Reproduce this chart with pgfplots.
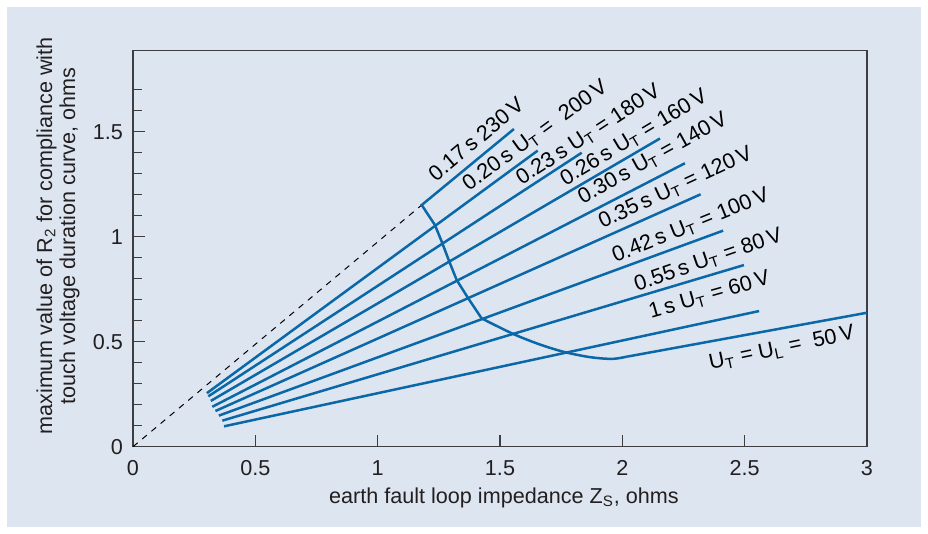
\documentclass[border=0pt]{standalone}
\usepackage{fontspec}
\setmainfont{Liberation Sans}
\usepackage{pgfplots}
\pgfplotsset{compat=1.18}
\definecolor{panel}{RGB}{221,230,240}
\definecolor{lineblue}{RGB}{10,104,168}
\definecolor{txt}{RGB}{35,31,32}
\definecolor{axgray}{RGB}{62,62,64}
\begin{document}
\fontsize{10.8}{12.5}\selectfont
\begin{tikzpicture}
\fill[white] (0,0) rectangle (464pt,267pt);
\fill[panel] (3.5pt,3.5pt) rectangle (460.5pt,263.5pt);
\begin{axis}[
  at={(66.5pt,43.65pt)}, anchor=south west,
  scale only axis, width=367pt, height=198pt,
  xmin=0, xmax=3, ymin=0, ymax=1.886,
  clip=false,
  axis line style={draw=axgray, line width=0.75pt},
  xtick={0,0.5,1,1.5,2,2.5,3},
  ytick={0,0.5,1,1.5},
  minor ytick={0.1,0.2,0.3,0.4,0.6,0.7,0.8,0.9,1.1,1.2,1.3,1.4,1.6,1.7},
  tick pos=left,
  tick align=inside,
  major tick length=6pt, minor tick length=4.5pt,
  every tick/.style={draw=axgray, line width=0.65pt},
  /pgf/number format/assume math mode=true,
  ticklabel style={text=txt, font=\fontsize{10.8}{12.5}\selectfont},
  yticklabel style={xshift=-1.3pt},
  xticklabel style={yshift=-3.1pt},
  xlabel={earth fault loop impedance Z\textsubscript{S}, ohms},
  xlabel style={at={(axis description cs:0.5054,0)}, anchor=center, yshift=-25.5pt, text=txt},
  ylabel={maximum value of R\textsubscript{2} for compliance with\\touch voltage duration curve, ohms},
  ylabel style={at={(axis description cs:-0.1020,0.532)}, anchor=center, align=center, text=txt, font=\fontsize{10.8}{11.5}\selectfont},
  every node/.append style={text=txt},
]
% dashed 230 V extension
\addplot[black, line width=0.5pt, dash pattern=on 3pt off 3pt] coordinates {(0,0) (1.18,1.151)};
% 230 V line and left part of the duration curve
\addplot[lineblue, line width=1.25pt, line join=miter] coordinates {(1.557,1.513) (1.18,1.151) (1.234,1.056) (1.262,0.976) (1.293,0.881) (1.323,0.794) (1.370,0.707) (1.425,0.611)};
\addplot[lineblue, line width=1.25pt, smooth] coordinates {(1.425,0.611) (1.554,0.537) (1.66,0.488) (1.759,0.452) (1.854,0.429) (1.92,0.420) (1.97,0.419) (2.02,0.429)};
% 50 V line
\addplot[lineblue, line width=1.25pt] coordinates {(2.02,0.429) (3,0.638)};
% U_T lines
\addplot[lineblue, line width=1.25pt] coordinates {(0.302,0.255) (1.654,1.410)};
\addplot[lineblue, line width=1.25pt] coordinates {(0.308,0.240) (1.834,1.400)};
\addplot[lineblue, line width=1.25pt] coordinates {(0.318,0.218) (2.154,1.468)};
\addplot[lineblue, line width=1.25pt] coordinates {(0.324,0.190) (2.256,1.350)};
\addplot[lineblue, line width=1.25pt] coordinates {(0.337,0.170) (2.320,1.202)};
\addplot[lineblue, line width=1.25pt] coordinates {(0.351,0.148) (2.412,1.029)};
\addplot[lineblue, line width=1.25pt] coordinates {(0.365,0.124) (2.497,0.865)};
\addplot[lineblue, line width=1.25pt] coordinates {(0.372,0.097) (2.559,0.646)};
% labels
\node[rotate=40] at (axis cs:1.402,1.465) {0.17\,s 230\,V};
\node[rotate=36] at (axis cs:1.645,1.480) {0.20\,s U\textsubscript{T} =\ \ 200\,V};
\node[rotate=33] at (axis cs:1.862,1.484) {0.23\,s U\textsubscript{T} = 180\,V};
\node[rotate=31] at (axis cs:2.048,1.470) {0.26\,s U\textsubscript{T} = 160\,V};
\node[rotate=29] at (axis cs:2.125,1.372) {0.30\,s U\textsubscript{T} = 140\,V};
\node[rotate=25] at (axis cs:2.218,1.232) {0.35\,s U\textsubscript{T} = 120\,V};
\node[rotate=22] at (axis cs:2.280,1.052) {0.42\,s U\textsubscript{T} = 100\,V};
\node[rotate=19] at (axis cs:2.352,0.888) {0.55\,s U\textsubscript{T} = 80\,V};
\node[rotate=16] at (axis cs:2.356,0.720) {1\,s U\textsubscript{T} = 60\,V};
\node[rotate=12] at (axis cs:2.652,0.468) {U\textsubscript{T} = U\textsubscript{L} =\ \ 50\,V};
\end{axis}
\end{tikzpicture}
\end{document}
